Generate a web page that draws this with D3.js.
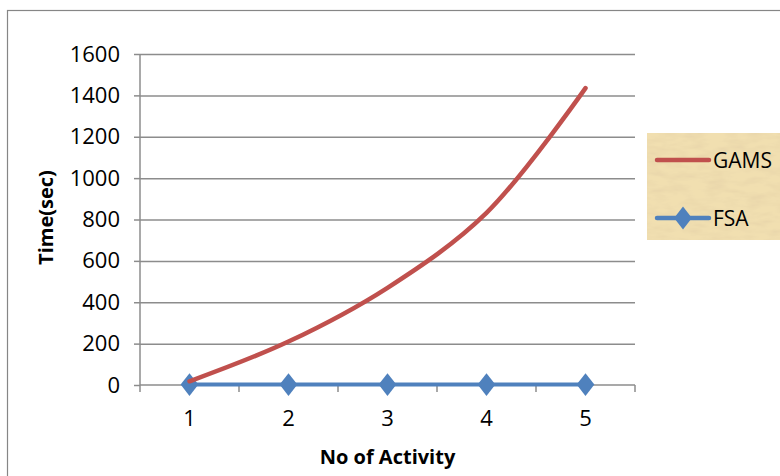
<!DOCTYPE html>
<html>
<head>
<meta charset="utf-8">
<script src="https://cdn.jsdelivr.net/npm/d3@7"></script>
<style>
  body { margin: 0; background: #fff; }
  svg { display: block; font-family: "Open Sans", "Noto Sans", sans-serif; }
</style>
</head>
<body>
<div id="chart"></div>
<script>
const activities = [1, 2, 3, 4, 5];
const gamsTimes = [18, 210, 470, 832, 1435];
const fsaTimes = [2, 2, 2, 2, 2];
const yTicks = [0, 200, 400, 600, 800, 1000, 1200, 1400, 1600];

const W = 780, H = 476;
const margin = {top: 54, left: 140, right: 145, bottom: 91};
const width = W - margin.left - margin.right;   // 495
const height = H - margin.top - margin.bottom;  // 331

const svg = d3.select("#chart").append("svg")
    .attr("width", W).attr("height", H);

// papyrus-like texture for legend
const defs = svg.append("defs");
const filt = defs.append("filter").attr("id", "papyrus")
    .attr("x", 0).attr("y", 0).attr("width", "100%").attr("height", "100%");
filt.append("feTurbulence").attr("type", "fractalNoise")
    .attr("baseFrequency", "0.05 0.15").attr("numOctaves", 3).attr("seed", 4).attr("result", "noise");
filt.append("feColorMatrix").attr("in", "noise").attr("type", "matrix")
    .attr("values", "0 0 0 0 0.80  0 0 0 0 0.66  0 0 0 0 0.40  -1.6 0 0 0 1.0")
    .attr("result", "tint");
filt.append("feComposite").attr("in", "tint").attr("in2", "SourceGraphic").attr("operator", "atop");

// outer chart border (cropped at right/bottom)
svg.append("rect")
    .attr("x", 7.5).attr("y", 10.5)
    .attr("width", W + 10).attr("height", H + 10)
    .attr("fill", "none").attr("stroke", "#868686").attr("stroke-width", 1.2);

const g = svg.append("g").attr("transform", `translate(${margin.left},${margin.top})`);

const x = d3.scaleBand().domain(activities).range([0, width]).padding(0);
const y = d3.scaleLinear().domain([0, 1600]).range([height, 0]);
const cx = d => x(d) + x.bandwidth() / 2;

// gridlines
g.append("g")
    .call(d3.axisLeft(y).tickValues(yTicks.slice(1)).tickSize(-width).tickFormat(""))
    .call(s => s.select(".domain").remove())
    .selectAll("line").attr("stroke", "#8c8c8c").attr("stroke-width", 1.5);

// y axis
const yAxis = g.append("g")
    .call(d3.axisLeft(y).tickValues(yTicks).tickSize(6).tickPadding(14).tickFormat(d3.format("d")));
yAxis.attr("font-size", null).attr("font-family", null);
yAxis.select(".domain").attr("stroke", "#8c8c8c").attr("stroke-width", 1.5).attr("d", `M0,0V${height}`);
yAxis.selectAll("line").attr("stroke", "#8c8c8c").attr("stroke-width", 1.5);
yAxis.selectAll("text").style("font-size", "22px").attr("fill", "#000");

// x axis (ticks between categories)
const xg = g.append("g").attr("transform", `translate(0,${height})`);
xg.append("line").attr("x1", 0).attr("x2", width).attr("stroke", "#8c8c8c").attr("stroke-width", 1.5);
const bounds = activities.map(d => x(d)).concat([width]);
xg.selectAll(".tk").data(bounds).enter().append("line")
    .attr("x1", d => d).attr("x2", d => d).attr("y1", 0).attr("y2", 7)
    .attr("stroke", "#8c8c8c").attr("stroke-width", 1.5);
xg.selectAll(".lbl").data(activities).enter().append("text")
    .attr("x", d => cx(d)).attr("y", 41)
    .attr("text-anchor", "middle").style("font-size", "22px").attr("fill", "#000")
    .text(d => d);

// axis titles
svg.append("text")
    .attr("transform", `translate(53,${margin.top + height / 2 - 2}) rotate(-90)`)
    .attr("text-anchor", "middle").style("font-size", "20px").attr("font-weight", "bold")
    .text("Time(sec)");
svg.append("text")
    .attr("x", margin.left + width / 2).attr("y", 464)
    .attr("text-anchor", "middle").style("font-size", "20px").attr("font-weight", "bold")
    .text("No of Activity");

// series
const line = d3.line().x(d => cx(d.a)).y(d => y(d.v));
const gams = activities.map((a, i) => ({a, v: gamsTimes[i]}));
const fsa = activities.map((a, i) => ({a, v: fsaTimes[i]}));

g.append("path").datum(fsa)
    .attr("d", line).attr("fill", "none")
    .attr("stroke", "#4f81bd").attr("stroke-width", 4);
const diamond = d3.symbol().type(d3.symbolDiamond).size(150);
g.selectAll(".fsa").data(fsa).enter().append("path")
    .attr("d", diamond)
    .attr("transform", d => `translate(${cx(d.a)},${y(d.v)}) scale(1.35,1)`)
    .attr("fill", "#4f81bd");

g.append("path").datum(gams)
    .attr("d", line.curve(d3.curveCatmullRom.alpha(0.5))).attr("fill", "none")
    .attr("stroke", "#c0504d").attr("stroke-width", 4.5).attr("stroke-linecap", "round");

// legend
const lg = svg.append("g").attr("transform", "translate(647,133)");
lg.append("rect").attr("width", 140).attr("height", 107)
    .attr("fill", "#f1dfb0").attr("filter", "url(#papyrus)");
const legendItems = [
    {name: "GAMS", color: "#c0504d", marker: false, y: 27},
    {name: "FSA", color: "#4f81bd", marker: true, y: 85}
];
legendItems.forEach(it => {
    lg.append("line").attr("x1", 10).attr("x2", 62).attr("y1", it.y).attr("y2", it.y)
        .attr("stroke", it.color).attr("stroke-width", 4.5).attr("stroke-linecap", "round");
    if (it.marker) {
        lg.append("path").attr("d", diamond)
            .attr("transform", `translate(36,${it.y}) scale(1.35,1)`)
            .attr("fill", it.color);
    }
    lg.append("text").attr("x", 66).attr("y", it.y + 8)
        .style("font-size", "21px").attr("fill", "#000").text(it.name);
});
</script>
</body>
</html>
